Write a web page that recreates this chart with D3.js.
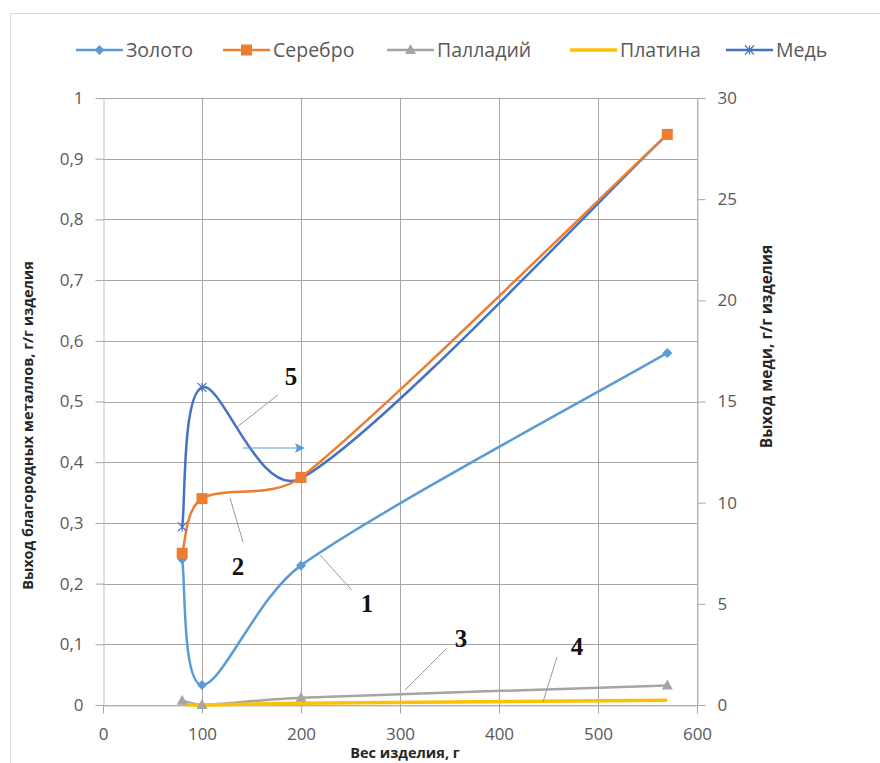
<!DOCTYPE html>
<html><head><meta charset="utf-8">
<script src="https://cdn.jsdelivr.net/npm/d3@7/dist/d3.min.js"></script>
<style>
html,body{margin:0;padding:0;background:#fff;}
svg{display:block;font-family:"Open Sans",sans-serif;}
</style></head>
<body><svg id="c" width="880" height="763"></svg>
<script>
// ---- data ----
const weights   = [80, 100, 200, 570];          // Вес изделия, г
const gold      = [0.24, 0.033, 0.23, 0.58];     // Золото (left axis)
const silver    = [0.25, 0.34, 0.375, 0.94];     // Серебро (left axis)
const palladium = [0.007, 0.0, 0.012, 0.032];    // Палладий (left axis)
const platinum  = [0.001, 0.0, 0.003, 0.008];    // Платина (left axis)
const copper    = [8.8, 15.7, 11.2, 28.2];       // Медь (right axis)
const seriesNames = ["Золото", "Серебро", "Палладий", "Платина", "Медь"];
const xTicks = [0, 100, 200, 300, 400, 500, 600];
const yLeftTicks = [0, 0.1, 0.2, 0.3, 0.4, 0.5, 0.6, 0.7, 0.8, 0.9, 1];
const yRightTicks = [0, 5, 10, 15, 20, 25, 30];
const annLabels = ["1", "2", "3", "4", "5"];
// annotation anchors in data units (x, left-axis y)
const annText   = [[266.7, 0.153], [136.4, 0.214], [361.6, 0.0956], [478.8, 0.0824], [190, 0.527]];
const annLeader = [[[219.2, 0.247], [251.5, 0.189]], [[128.3, 0.341], [141.4, 0.2685]],
                   [[347.5, 0.094], [305, 0.0247]], [[458.6, 0.079], [444.4, 0.005]],
                   [[176.8, 0.511], [135.4, 0.458]]];
const arrowPts = [[141.4, 0.4234], [204, 0.4234]];

// ---- layout ----
const svg = d3.select("#c");
const L = 103, R = 697, T = 98, B = 705;
const x = d3.scaleLinear().domain([0, 600]).range([L, R]);
const yL = d3.scaleLinear().domain([0, 1]).range([B, T]);
const yR = d3.scaleLinear().domain([0, 30]).range([B, T]);

// spreadsheet-style smoothing curve (cardinal with limited handles)
function SmoothCurve(context) { this._context = context; }
SmoothCurve.prototype = {
  areaStart() {}, areaEnd() {},
  lineStart() { this._pts = []; },
  point(px, py) { this._pts.push([+px, +py]); },
  lineEnd() {
    const p = this._pts, c = this._context, n = p.length;
    if (!n) return;
    c.moveTo(p[0][0], p[0][1]);
    const K = 0.35;
    const handle = (a, b, segLen) => {
      let hx = (b[0] - a[0]) / 6, hy = (b[1] - a[1]) / 6;
      const len = Math.hypot(hx, hy), lim = segLen * K;
      if (len > lim && len > 0) { hx *= lim / len; hy *= lim / len; }
      return [hx, hy];
    };
    for (let i = 0; i < n - 1; i++) {
      const p0 = p[Math.max(i - 1, 0)], p1 = p[i], p2 = p[i + 1], p3 = p[Math.min(i + 2, n - 1)];
      const seg = Math.hypot(p2[0] - p1[0], p2[1] - p1[1]);
      const h1 = handle(p0, p2, seg), h2 = handle(p1, p3, seg);
      c.bezierCurveTo(p1[0] + h1[0], p1[1] + h1[1], p2[0] - h2[0], p2[1] - h2[1], p2[0], p2[1]);
    }
  }
};
const smoothCurve = ctx => new SmoothCurve(ctx);

// frame
svg.append("rect").attr("x", 10.5).attr("y", 13.5).attr("width", 900).attr("height", 800)
  .attr("fill", "#fff").attr("stroke", "#d9d9d9").attr("stroke-width", 1);

// grid
const grid = svg.append("g");
grid.selectAll("line.h").data(yLeftTicks).join("line")
  .attr("x1", L).attr("x2", R).attr("y1", d => Math.round(yL(d)) + 0.5).attr("y2", d => Math.round(yL(d)) + 0.5)
  .attr("stroke", "#a6a6a6").attr("stroke-width", 1);
grid.selectAll("line.v").data(xTicks.slice(1)).join("line")
  .attr("y1", T).attr("y2", B).attr("x1", d => Math.round(x(d)) + 0.5).attr("x2", d => Math.round(x(d)) + 0.5)
  .attr("stroke", "#a6a6a6").attr("stroke-width", 1);

// axes
const fmtL = d => d3.format(".1~f")(d).replace(".", ",");
const axL = svg.append("g").attr("transform", `translate(${L + 0.5},0)`)
  .call(d3.axisLeft(yL).tickValues(yLeftTicks).tickFormat(fmtL).tickSizeInner(8).tickSizeOuter(0).tickPadding(12));
const axR = svg.append("g").attr("transform", `translate(${R + 0.5},0)`)
  .call(d3.axisRight(yR).tickValues(yRightTicks).tickSizeInner(8).tickSizeOuter(0).tickPadding(12));
const axB = svg.append("g").attr("transform", `translate(0,${B + 0.5})`)
  .call(d3.axisBottom(x).tickValues(xTicks).tickSizeInner(8).tickSizeOuter(0).tickPadding(12));
[axL, axR, axB].forEach(a => {
  a.select(".domain").attr("stroke", "#bfbfbf");
  a.selectAll(".tick line").attr("stroke", "#a6a6a6");
  a.selectAll(".tick text").attr("fill", "#595959").style("font-size", "17px").style("font-family", "Open Sans, sans-serif");
});
axB.selectAll(".tick text").attr("dy", "0.85em");

// axis titles
svg.append("text").attr("transform", `translate(33,${(T + B) / 2 + 24}) rotate(-90)`)
  .attr("text-anchor", "middle").style("font-size", "14.5px").style("font-weight", "bold").attr("fill", "#262626")
  .text("Выход благородных металлов, г/г изделия");
svg.append("text").attr("transform", `translate(772,${(T + B) / 2 - 55}) rotate(-90)`)
  .attr("text-anchor", "middle").style("font-size", "15.5px").style("font-weight", "bold").attr("fill", "#262626")
  .text("Выход меди, г/г изделия");
svg.append("text").attr("x", (L + R) / 2 + 5).attr("y", 758)
  .attr("text-anchor", "middle").style("font-size", "14.5px").style("font-weight", "bold").attr("fill", "#262626")
  .text("Вес изделия, г");

// series
const colors = ["#5B9BD5", "#ED7D31", "#A5A5A5", "#FFC000", "#4472C4"];
const series = [
  {name: seriesNames[0], vals: gold, y: yL, color: colors[0], marker: "diamond", w: 2.5},
  {name: seriesNames[1], vals: silver, y: yL, color: colors[1], marker: "square", w: 2.5},
  {name: seriesNames[2], vals: palladium, y: yL, color: colors[2], marker: "triangle", w: 2.5},
  {name: seriesNames[3], vals: platinum, y: yL, color: colors[3], marker: "none", w: 3.5},
  {name: seriesNames[4], vals: copper, y: yR, color: colors[4], marker: "star", w: 2.5}
];
function drawMarker(g, type, cx, cy, color) {
  if (type === "diamond") {
    g.append("path").attr("d", `M${cx},${cy - 5}L${cx + 5},${cy}L${cx},${cy + 5}L${cx - 5},${cy}Z`).attr("fill", color);
  } else if (type === "square") {
    g.append("rect").attr("x", cx - 5.5).attr("y", cy - 5.5).attr("width", 11).attr("height", 11).attr("fill", color);
  } else if (type === "triangle") {
    g.append("path").attr("d", `M${cx},${cy - 6}L${cx + 5.5},${cy + 4}L${cx - 5.5},${cy + 4}Z`).attr("fill", color);
  } else if (type === "star") {
    const s = 4.5;
    g.append("path").attr("d", `M${cx - s},${cy - s}L${cx + s},${cy + s}M${cx - s},${cy + s}L${cx + s},${cy - s}M${cx},${cy - s}L${cx},${cy + s}`)
      .attr("stroke", color).attr("stroke-width", 1.2).attr("fill", "none");
  }
}
const line = (ys) => d3.line().x(d => x(d[0])).y(d => ys(d[1])).curve(smoothCurve);
const order = [4, 0, 1, 2, 3];
const plot = svg.append("g");
order.forEach(i => {
  const s = series[i];
  const pts = weights.map((w, k) => [w, s.vals[k]]);
  plot.append("path").attr("d", line(s.y)(pts)).attr("fill", "none").attr("stroke", s.color)
    .attr("stroke-width", s.w).attr("stroke-linejoin", "round");
});
order.forEach(i => {
  const s = series[i];
  const g = plot.append("g");
  weights.forEach((w, k) => drawMarker(g, s.marker, x(w), s.y(s.vals[k]), s.color));
});

// legend
const legX = [76, 223, 387, 570, 726];
const lg = svg.append("g");
series.forEach((s, i) => {
  const x0 = legX[i], yy = 50;
  lg.append("line").attr("x1", x0).attr("x2", x0 + 47).attr("y1", yy).attr("y2", yy)
    .attr("stroke", s.color).attr("stroke-width", s.w);
  drawMarker(lg, s.marker, x0 + 23.5, yy, s.color);
  lg.append("text").attr("x", x0 + 50).attr("y", yy).attr("dy", "0.35em")
    .style("font-size", "19.5px").attr("fill", "#595959").text(s.name);
});

// annotations
const ann = svg.append("g");
annLeader.forEach(l => {
  ann.append("line").attr("x1", x(l[0][0])).attr("y1", yL(l[0][1])).attr("x2", x(l[1][0])).attr("y2", yL(l[1][1]))
    .attr("stroke", "#9a9a9a").attr("stroke-width", 1);
});
annText.forEach((p, i) => {
  ann.append("text").attr("x", x(p[0])).attr("y", yL(p[1])).attr("text-anchor", "middle")
    .style("font-family", "Liberation Serif, serif").style("font-weight", "bold").style("font-size", "25px")
    .attr("fill", "#111").text(annLabels[i]);
});
const ax1 = x(arrowPts[0][0]), ay = yL(arrowPts[0][1]), ax2 = x(arrowPts[1][0]);
ann.append("line").attr("x1", ax1).attr("y1", ay).attr("x2", ax2 - 8).attr("y2", ay).attr("stroke", "#5B9BD5").attr("stroke-width", 1.2);
ann.append("path").attr("d", `M${ax2},${ay}L${ax2 - 10},${ay - 5}L${ax2 - 8},${ay}L${ax2 - 10},${ay + 5}Z`).attr("fill", "#5B9BD5");
</script></body></html>
